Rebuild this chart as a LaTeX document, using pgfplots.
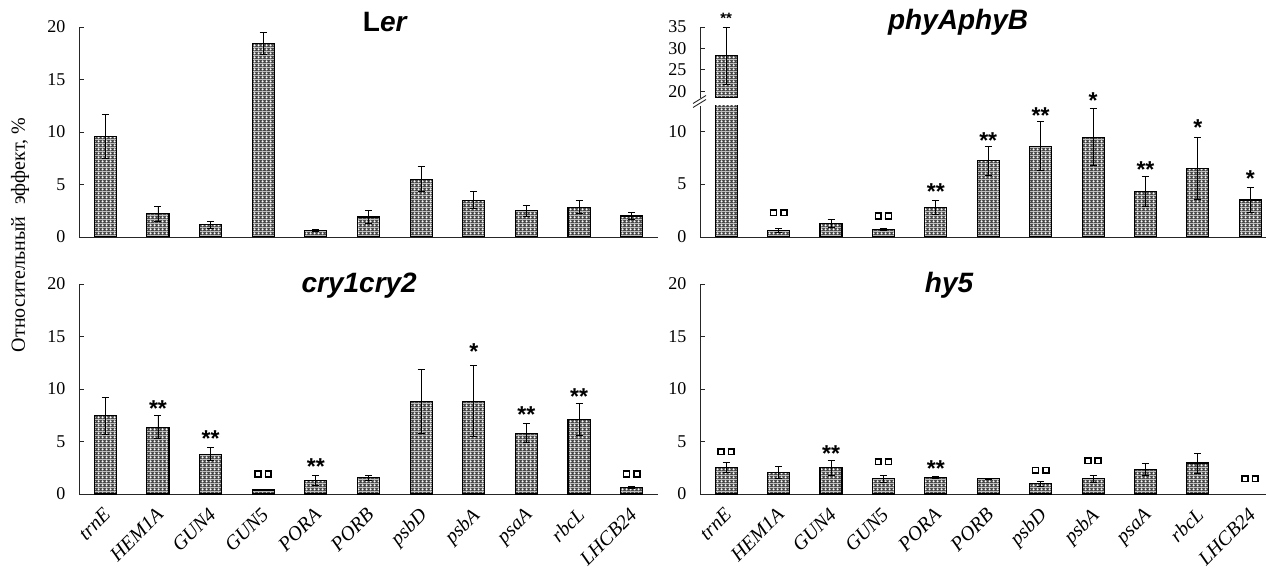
\documentclass[border=0pt]{standalone}
\usepackage{fontspec}
\setmainfont{Liberation Serif}
\newfontfamily\arialf{Liberation Sans}
\usepackage{pgfplots}
\pgfplotsset{compat=1.18}
\usepackage{pgfplotstable}
\usetikzlibrary{patterns.meta}

\pgfdeclarepattern{
  name=mesh,
  type=colored,
  bottom left=\pgfpointorigin,
  top right=\pgfqpoint{3.6pt}{3.6pt},
  tile size=\pgfqpoint{3.6pt}{3.6pt},
  code={
    \pgfsetfillcolor{black!72}
    \pgfpathrectangle{\pgfpointorigin}{\pgfqpoint{3.6pt}{3.6pt}}
    \pgfusepath{fill}
    \pgfsetfillcolor{white}
    \pgfpathmoveto{\pgfqpoint{1.8pt}{0.55pt}}
    \pgfpathlineto{\pgfqpoint{3.05pt}{1.8pt}}
    \pgfpathlineto{\pgfqpoint{1.8pt}{3.05pt}}
    \pgfpathlineto{\pgfqpoint{0.55pt}{1.8pt}}
    \pgfpathclose
    \pgfusepath{fill}
  }
}

\newcommand\ds{{\arialf\bfseries\fontsize{23}{23}\selectfont\raisebox{-0.58em}[0.1em][0.1em]{**}}}
\newcommand\dsm{{\arialf\bfseries\fontsize{15}{15}\selectfont\raisebox{-0.58em}[0.1em][0.1em]{**}}}
\newcommand\sst{{\arialf\bfseries\fontsize{23}{23}\selectfont\raisebox{-0.58em}[0.1em][0.1em]{*}}}
\newcommand\bx{{\setlength\fboxrule{1.7pt}\setlength\fboxsep{0pt}\fbox{\rule{0pt}{3.8pt}\hspace{4.2pt}}}}
\newcommand\sq{\raisebox{-3.6pt}[0.1pt][0.1pt]{\bx\hspace{2.6pt}\bx}}

% Ler
\pgfplotstableread{
x y e
0 9.6 2.1
1 2.2 0.7
2 1.15 0.3
3 18.4 1.05
4 0.6 0.1
5 1.9 0.6
6 5.5 1.2
7 3.5 0.8
8 2.5 0.55
9 2.85 0.6
10 2.0 0.35
}\ler
% phyAphyB
\pgfplotstableread{
x y e
0 28.3 6.7
1 0.6 0.2
2 1.3 0.35
3 0.7 0.12
4 2.8 0.66
5 7.2 1.4
6 8.6 2.3
7 9.45 2.7
8 4.3 1.4
9 6.5 2.9
10 3.5 1.15
}\phy
% cry1cry2
\pgfplotstableread{
x y e
0 7.45 1.75
1 6.35 1.1
2 3.8 0.6
3 0.38 0.06
4 1.3 0.45
5 1.55 0.22
6 8.85 3.05
7 8.85 3.4
8 5.8 0.9
9 7.1 1.5
10 0.62 0.12
}\cry
% hy5
\pgfplotstableread{
x y e
0 2.5 0.47
1 2.05 0.55
2 2.5 0.7
3 1.45 0.32
4 1.58 0.13
5 1.45 0.07
6 0.98 0.23
7 1.45 0.33
8 2.35 0.6
9 2.95 0.95
}\hyf

\pgfplotstableread{
x y l
0 21.0 \dsm
1 2.46 \sq
3 2.15 \sq
4 4.8 \ds
5 9.68 \ds
6 12.05 \ds
7 13.47 \sst
8 6.85 \ds
9 10.9 \sst
10 6.0 \sst
}\phyann
\pgfplotstableread{
x y l
1 8.63 \ds
2 5.78 \ds
3 2.06 \sq
4 3.17 \ds
7 14.1 \sst
8 8.1 \ds
9 9.84 \ds
10 2.06 \sq
}\cryann
\pgfplotstableread{
x y l
0 4.19 \sq
2 4.32 \ds
3 3.24 \sq
4 2.92 \ds
6 2.41 \sq
7 3.33 \sq
10 1.62 \sq
}\hyann

\pgfplotsset{
  panel/.style={
    scale only axis, anchor=south west,
    xmin=-0.5, ymin=0,
    axis x line*=bottom, axis y line*=left,
    axis line style={-, line width=0.9pt, black!85},
    tick align=inside, major tick length=5pt,
    ytick style={line width=0.9pt, black!85},
    xtick style={draw=none},
    tick label style={font=\fontsize{18}{18}\selectfont},
    /pgf/number format/assume math mode=true,
    yticklabel style={xshift=-10pt},
    xtick=\empty,
    title style={anchor=base, font=\arialf\bfseries\itshape\fontsize{28}{28}\selectfont},
  },
  genes/.style={
    xtick={0,...,10},
    xticklabels={trnE, HEM1A, GUN4, GUN5, PORA, PORB, psbD, psbA, psaA, rbcL, LHCB24},
    xticklabel style={font=\fontsize{20}{20}\selectfont\itshape, xshift=-3pt, yshift=-11pt, rotate=45, anchor=north east, inner sep=1pt},
  },
  mybar/.style={
    ybar, bar width=0.42, draw=black, line width=1.1pt, pattern=mesh,
    /pgfplots/error bars/y dir=both,
    /pgfplots/error bars/y explicit,
    /pgfplots/error bars/error bar style={line width=0.9pt, black, solid},
    /pgfplots/error bars/error mark options={rotate=90, mark size=3.5pt, line width=0.9pt, black},
  },
  ann/.style={
    draw=none, mark=none, nodes near coords, point meta=explicit symbolic,
    nodes near coords style={anchor=center, inner sep=0pt, text=black},
  },
}

\begin{document}
\begin{tikzpicture}[x=1pt,y=1pt]
\useasboundingbox (0,0) rectangle (1266,570);

% Top-left: Ler
\begin{axis}[panel, at={(79pt,333pt)}, width=579pt, height=210pt,
  xmax=10.5, ymax=20, ytick={0,5,10,15,20},
  title={\upshape L\itshape er}, title style={at={(0.528,0.948)}}]
\addplot[mybar] table[x=x, y=y, y error=e] {\ler};
\end{axis}

% Top-right: phyAphyB lower part
\begin{axis}[panel, at={(700pt,333pt)}, width=566pt, height=131pt,
  xmax=10.3, ymax=12.4, ytick={0,5,10}]
\addplot[mybar] table[x=x, y=y, y error=e] {\phy};
\end{axis}
% upper part (only the bar that reaches it)
\begin{axis}[panel, at={(700pt,472pt)}, width=566pt, height=71pt,
  xmax=10.3, ymin=18.4, ymax=35, ytick={20,25,30,35},
  axis x line=none,
  title={phyAphyB}, title style={at={(0.456,0.887)}}]
\addplot[mybar, restrict x to domain=-0.5:0.5] table[x=x, y=y, y error=e] {\phy};
\end{axis}
% annotations overlay
\begin{axis}[panel, at={(700pt,333pt)}, width=566pt, height=131pt,
  xmax=10.3, ymax=12.4, hide axis, clip=false]
\addplot[ann] table[x=x, y=y, meta=l] {\phyann};
\end{axis}
\draw[line width=0.9pt, black!85] (693,462.5) -- (706,470.5);
\draw[line width=0.9pt, black!85] (693,466.5) -- (706,474.5);

% Bottom-left: cry1cry2
\begin{axis}[panel, genes, at={(79pt,76pt)}, width=579pt, height=210pt,
  xmax=10.5, ymax=20, ytick={0,5,10,15,20}, clip=false,
  title={cry1cry2}, title style={at={(0.484,0.933)}}]
\addplot[mybar] table[x=x, y=y, y error=e] {\cry};
\addplot[ann] table[x=x, y=y, meta=l] {\cryann};
\end{axis}

% Bottom-right: hy5
\begin{axis}[panel, genes, at={(700pt,76pt)}, width=566pt, height=210pt,
  xmax=10.3, ymax=20, ytick={0,5,10,15,20}, clip=false,
  title={hy5}, title style={at={(0.44,0.933)}}]
\addplot[mybar] table[x=x, y=y, y error=e] {\hyf};
\addplot[ann] table[x=x, y=y, meta=l] {\hyann};
\end{axis}

\node[rotate=90, font=\fontsize{20}{20}\selectfont] at (20,335) {Относительный\hspace{0.6em}эффект, \%};
\end{tikzpicture}
\end{document}
